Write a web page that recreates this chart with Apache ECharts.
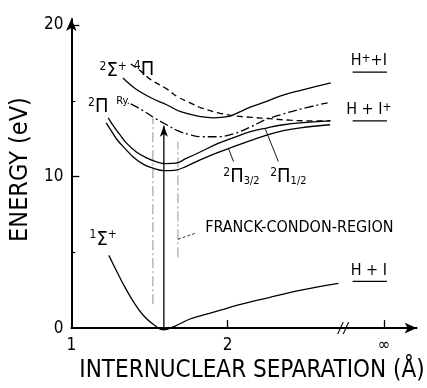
<!DOCTYPE html>
<html><head><meta charset="utf-8">
<script src="https://cdn.jsdelivr.net/npm/echarts@6/dist/echarts.min.js"></script>
<style>html,body{margin:0;padding:0;background:#fff}#c{width:427px;height:388px}</style>
</head><body><div id="c"></div>
<script>
// ---------------- data ----------------
const xTickValues = [2, 3];
const xLabelValues = [1, 2, 3];
const xLabelText = { 1: '1', 2: '2', 3: '∞' };
const yMajorTicks = [10, 20];
const yMinorTicks = [5, 15];
const yLabelValues = [0, 10, 20];

// potential curves: [internuclear separation (Å, ∞ drawn at 3), energy (eV)]
const groundSigma = [[1.24,4.8],[1.30,3.55],[1.34,2.75],[1.40,1.7],[1.46,0.85],[1.53,0.2],[1.59,-0.12],[1.66,0.12],[1.76,0.6],[1.83,0.82],[1.96,1.2],[2.04,1.45],[2.26,2.0],[2.47,2.5],[2.71,2.95]];
const sigma2 = [[1.33,16.5],[1.41,15.8],[1.51,15.2],[1.61,14.74],[1.70,14.28],[1.83,13.95],[1.91,13.88],[2.00,13.95],[2.05,14.14],[2.15,14.6],[2.24,14.93],[2.34,15.33],[2.48,15.72],[2.66,16.18]];
const pi4 = [[1.38,17.43],[1.45,16.91],[1.51,16.38],[1.61,15.79],[1.68,15.26],[1.76,14.87],[1.83,14.54],[1.94,14.21],[2.04,14.01],[2.15,13.91],[2.27,13.82],[2.40,13.72],[2.53,13.68],[2.66,13.68]];
const rydberg = [[1.38,14.8],[1.45,14.41],[1.53,13.88],[1.61,13.42],[1.68,13.03],[1.76,12.76],[1.83,12.63],[1.94,12.63],[2.04,12.83],[2.15,13.29],[2.24,13.75],[2.34,14.08],[2.45,14.41],[2.64,14.87]];
const pi12 = [[1.236,13.88],[1.268,13.36],[1.306,12.83],[1.35,12.24],[1.414,11.64],[1.478,11.25],[1.541,10.99],[1.605,10.86],[1.669,10.89],[1.732,11.18],[1.828,11.64],[1.936,12.17],[2.038,12.57],[2.146,12.96],[2.255,13.22],[2.357,13.42],[2.465,13.55],[2.656,13.68]];
const pi32 = [[1.223,13.55],[1.255,13.03],[1.293,12.43],[1.338,11.91],[1.401,11.25],[1.465,10.79],[1.529,10.53],[1.592,10.39],[1.669,10.43],[1.732,10.66],[1.828,11.12],[1.936,11.58],[2.038,11.97],[2.146,12.37],[2.255,12.76],[2.357,13.03],[2.465,13.22],[2.656,13.42]];

// asymptotic levels (underlined dissociation limits)
const asymptoteLevels = [16.9, 13.68, 3.09];
const asymptoteNames = ['H⁺+I', 'H+I⁺', 'H+I'];
const asymptoteSpan = [2.80, 3.02];

// Franck–Condon region boundaries and vertical excitation
const fcLeft = [[1.522, 1.58], [1.522, 13.88]];
const fcRight = [[1.682, 4.67], [1.682, 12.3]];
const excitation = [[1.592, -0.13], [1.592, 13.35]];
const fcLeader = [[1.682, 5.86], [1.79, 6.25]];
const pointer32 = [[2.038, 10.99], [2.006, 11.84]];
const pointer12 = [[2.325, 10.99], [2.242, 13.12]];
const axisBreakAt = 2.74;

// ---------------- layout / style ----------------
const F = '"DejaVu Sans Condensed","DejaVu Sans",sans-serif';
const INK = '#000';
const rich = {
  b: { fontFamily: F, fontSize: 20, color: INK },
  m: { fontFamily: F, fontSize: 16, color: INK },
  r: { fontFamily: F, fontSize: 11, color: INK },
  s: { fontFamily: F, fontSize: 12, color: INK, verticalAlign: 'top' },
  u: { fontFamily: F, fontSize: 11, color: INK, verticalAlign: 'bottom' }
};
// annotation anchors (text centres) in data coordinates
const notes = [
  { at: [1.268, 16.97], text: '{s|2}{b|Σ}{s|+}' },
  { at: [1.465, 17.04], text: '{s|4}{b|Π}' },
  { at: [1.172, 14.61], text: '{s|2}{b|Π}' },
  { at: [1.331, 15.0], text: '{r|Ry.}' },
  { at: [1.204, 5.86], text: '{s|1}{b|Σ}{s|+}' },
  { at: [2.089, 10.0], text: '{s|2}{b|Π}{u|3/2}' },
  { at: [2.389, 10.0], text: '{s|2}{b|Π}{u|1/2}' },
  { at: [2.459, 6.6], text: '{m|FRANCK-CONDON-REGION}' },
  { at: [2.904, 17.63], text: '{m|H}{s|+}{m|+I}' },
  { at: [2.904, 14.41], text: '{m|H + I}{s|+}' },
  { at: [2.904, 3.75], text: '{m|H + I}' }
];

function curve(name, data, type, width) {
  return {
    name, type: 'line', data, smooth: 0.4, symbol: 'none', silent: true, clip: false,
    lineStyle: { color: INK, width: width || 1.3, type: type || 'solid' }, z: 3
  };
}
function seg(name, data, opts) {
  return Object.assign({
    name, type: 'line', data, symbol: 'none', silent: true, clip: false,
    lineStyle: { color: INK, width: 0.9 }, z: 2
  }, opts || {});
}

const series = [
  curve('1Σ+', groundSigma),
  curve('2Σ+', sigma2),
  curve('4Π', pi4, [6, 4]),
  curve('Ry', rydberg, [9, 3, 2, 3]),
  curve('2Π1/2', pi12),
  curve('2Π3/2', pi32),
  seg('FC left', fcLeft, { lineStyle: { color: '#777', width: 0.8, type: [10, 3, 2, 3] } }),
  seg('FC right', fcRight, { lineStyle: { color: '#777', width: 0.8, type: [10, 3, 2, 3] } }),
  seg('FC leader', fcLeader, { lineStyle: { color: INK, width: 0.8, type: [3, 2] } }),
  seg('pointer 3/2', pointer32),
  seg('pointer 1/2', pointer12),
  {
    name: 'excitation', type: 'line', silent: true, z: 4, clip: false,
    data: [
      { value: excitation[0], symbol: 'none' },
      { value: excitation[1], symbol: 'arrow', symbolSize: [6, 11] }
    ],
    showSymbol: true, showAllSymbol: true,
    lineStyle: { color: INK, width: 1.3 }, itemStyle: { color: INK }
  }
];
asymptoteLevels.forEach((lv, i) => {
  series.push(seg('limit ' + asymptoteNames[i], [[asymptoteSpan[0], lv], [asymptoteSpan[1], lv]], { lineStyle: { color: INK, width: 1.2 } }));
});
series.push({
  name: 'axis break', type: 'scatter', silent: true, z: 6,
  data: [[axisBreakAt, 0]],
  symbol: 'path://M0,13 L5,0 M5,13 L10,0', symbolSize: [11, 12],
  itemStyle: { color: 'none', borderColor: INK, borderWidth: 1.1, opacity: 1 }
});
series.push({
  name: 'labels', type: 'scatter', silent: true, z: 7,
  symbolSize: 1, itemStyle: { color: 'rgba(0,0,0,0)', opacity: 1 },
  data: notes.map(n => ({
    value: n.at,
    label: { show: true, position: 'inside', formatter: n.text, rich, color: INK, opacity: 1, textBorderWidth: 0 }
  }))
});

const chart = echarts.init(document.getElementById('c'), null, { renderer: 'canvas' });
chart.setOption({
  animation: false,
  backgroundColor: '#fff',
  grid: { left: 70, right: 10, top: 19, bottom: 59, containLabel: false },
  xAxis: {
    type: 'value', min: 1, max: 3.21,
    name: 'INTERNUCLEAR SEPARATION (Å)', nameLocation: 'middle', nameGap: 29,
    nameTextStyle: { fontFamily: F, fontSize: 24, color: INK, padding: [0, 0, 0, 16] },
    axisLine: { onZero: true, lineStyle: { color: INK, width: 2 }, symbol: ['none', 'arrow'], symbolSize: [8, 12] },
    axisTick: { show: true, inside: true, length: 8, customValues: xTickValues, lineStyle: { color: INK, width: 1.3 } },
    axisLabel: { customValues: xLabelValues, formatter: v => xLabelText[v] || '', fontFamily: F, fontSize: 17, color: INK, margin: 9 },
    splitLine: { show: false }
  },
  yAxis: [{
    type: 'value', min: 0, max: 20.4,
    name: 'ENERGY (eV)', nameLocation: 'middle', nameGap: 38,
    nameTextStyle: { fontFamily: F, fontSize: 25, color: INK, padding: [0, 0, 0, 8] },
    axisLine: { onZero: true, lineStyle: { color: INK, width: 2 }, symbol: ['none', 'arrow'], symbolSize: [8, 12] },
    axisTick: { show: true, inside: true, length: 8, customValues: yMajorTicks, lineStyle: { color: INK, width: 1.3 } },
    axisLabel: { customValues: yLabelValues, fontFamily: F, fontSize: 17, color: INK, margin: 8 },
    splitLine: { show: false }
  }, {
    type: 'value', min: 0, max: 20.4, position: 'left',
    axisLine: { show: false },
    axisTick: { show: true, inside: true, length: 4, customValues: yMinorTicks, lineStyle: { color: INK, width: 1.2 } },
    axisLabel: { show: false }, splitLine: { show: false }
  }],
  series
});
</script>
</body></html>
